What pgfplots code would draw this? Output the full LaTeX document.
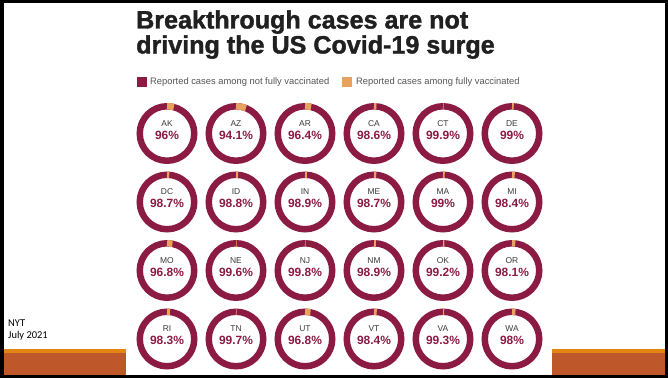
\documentclass[border=0pt]{standalone}
\usepackage{pgfplots}
\pgfplotsset{compat=1.18}
\usepackage{pgfplotstable}
\usepackage{fontspec}
\setmainfont{Liberation Sans}
\newfontfamily\titlefont{Liberation Sans}[BoldFeatures={FakeBold=1.5}]
\newfontfamily\carlito{Carlito}
\definecolor{notvax}{RGB}{140,27,67}
\definecolor{vax}{RGB}{232,162,95}
\definecolor{bandorange}{RGB}{228,132,20}
\definecolor{bandbrown}{RGB}{190,88,42}
\definecolor{titlecol}{RGB}{32,32,32}
\definecolor{legcol}{RGB}{85,85,85}
\definecolor{labgray}{RGB}{60,60,60}

\pgfplotstableread{
x y st pct
167 133.5 AK 96
236 133.5 AZ 94.1
305 133.5 AR 96.4
374 133.5 CA 98.6
443 133.5 CT 99.9
512 133.5 DE 99
167 202 DC 98.7
236 202 ID 98.8
305 202 IN 98.9
374 202 ME 98.7
443 202 MA 99
512 202 MI 98.4
167 270.5 MO 96.8
236 270.5 NE 99.6
305 270.5 NJ 99.8
374 270.5 NM 98.9
443 270.5 OK 99.2
512 270.5 OR 98.1
167 339 RI 98.3
236 339 TN 99.7
305 339 UT 96.8
374 339 VT 98.4
443 339 VA 99.3
512 339 WA 98
}\states

\begin{document}
\begin{tikzpicture}
\begin{axis}[
  width=668bp, height=378bp, scale only axis,
  xmin=0, xmax=668, ymin=0, ymax=378, y dir=reverse,
  hide axis, clip=false,
]
% slide frame and bands
\fill[black] (axis cs:0,0) rectangle (axis cs:668,378);
\fill[white] (axis cs:3.5,3) rectangle (axis cs:665,375);
\fill[bandorange] (axis cs:3.5,349) rectangle (axis cs:126,352.5);
\fill[bandbrown] (axis cs:3.5,352.5) rectangle (axis cs:126,375);
\fill[bandorange] (axis cs:552,349) rectangle (axis cs:665,352.5);
\fill[bandbrown] (axis cs:552,352.5) rectangle (axis cs:665,375);
% source note
\node[anchor=base west, inner sep=0, font=\carlito\fontsize{10.5}{12}\selectfont] at (axis cs:8,326.5) {NYT};
\node[anchor=base west, inner sep=0, font=\carlito\fontsize{10.5}{12}\selectfont] at (axis cs:8,338.5) {July 2021};
% title
\node[anchor=base west, inner sep=0, text=titlecol, font=\titlefont\bfseries\fontsize{25.2}{26}\selectfont] at (axis cs:136,28.5) {Breakthrough cases are not};
\node[anchor=base west, inner sep=0, text=titlecol, font=\titlefont\bfseries\fontsize{25.2}{26}\selectfont] at (axis cs:136,53.5) {driving the US Covid-19 surge};
% legend
\fill[notvax] (axis cs:137,77) rectangle (axis cs:146.5,87);
\node[anchor=west, inner sep=0, text=legcol, font=\fontsize{9.4}{10}\selectfont] at (axis cs:150,82) {Reported cases among not fully vaccinated};
\fill[vax] (axis cs:342,77) rectangle (axis cs:351.5,87);
\node[anchor=west, inner sep=0, text=legcol, font=\fontsize{9.4}{10}\selectfont] at (axis cs:356,82) {Reported cases among fully vaccinated};
% donuts: share not fully vaccinated (pct)
\addplot[scatter, only marks, mark=*, mark size=0.5pt,
  point meta=explicit symbolic,
  scatter/@pre marker code/.code={%
    \edef\pctv{\pgfplotspointmeta}%
    \pgfmathsetmacro\vang{max(3.6*(100-\pctv),1.2)}%
    \draw[notvax, line width=6.5bp] (0,0) circle[radius=27.25bp];
    \draw[vax, line width=6.5bp] (90:27.25bp) arc[start angle=90, delta angle=-\vang, radius=27.25bp];
    \node[text=notvax, inner sep=0, font=\bfseries\fontsize{12}{13}\selectfont] at (0,-1.5bp) {\pctv\%};
    \begin{scope}[opacity=0]%
  },
  scatter/@post marker code/.code={\end{scope}},
] table[x=x, y=y, meta=pct] {\states};
% state names
\addplot[only marks, mark=none, point meta=explicit symbolic,
  nodes near coords, nodes near coords align={center},
  every node near coord/.style={anchor=center, inner sep=0, yshift=10bp, text=labgray, font=\fontsize{8.5}{9}\selectfont},
] table[x=x, y=y, meta=st] {\states};
\end{axis}
\end{tikzpicture}
\end{document}
